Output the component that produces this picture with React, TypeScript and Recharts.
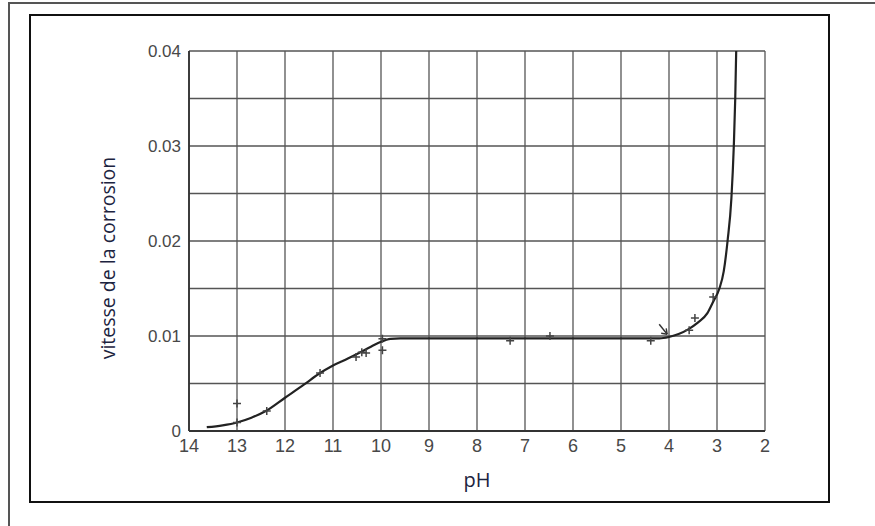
import { ComposedChart, Line, Scatter, XAxis, YAxis, CartesianGrid } from "recharts";

// courbe de vitesse de corrosion en fonction du pH
const curvePH = [13.63, 13.3, 13, 12.7, 12.4, 12, 11.6, 11.3, 11, 10.7, 10.5, 10.2, 10, 9.8, 9.6, 9.3, 9, 8, 7, 6, 5, 4.5, 4.2, 4.0, 3.8, 3.6, 3.4, 3.2, 3.08, 2.95, 2.86, 2.78, 2.7, 2.65, 2.62, 2.6];
const curveRate = [0.0004, 0.0006, 0.0009, 0.0014, 0.0021, 0.0035, 0.0049, 0.006, 0.0069, 0.0076, 0.0081, 0.0089, 0.0094, 0.0097, 0.00975, 0.00975, 0.00975, 0.00975, 0.00975, 0.00975, 0.00975, 0.00975, 0.00975, 0.0099, 0.0102, 0.0107, 0.0114, 0.0124, 0.0136, 0.015, 0.0168, 0.02, 0.0245, 0.03, 0.035, 0.04];

// points de mesure (+)
const pointPH = [13, 13, 12.38, 11.27, 10.52, 10.4, 10.31, 9.97, 9.97, 7.31, 6.48, 4.38, 3.58, 3.46, 3.08];
const pointRate = [0.0029, 0.0009, 0.0021, 0.0061, 0.0078, 0.0083, 0.0082, 0.0085, 0.0097, 0.0095, 0.01, 0.0095, 0.0106, 0.0119, 0.0141];

// flèche
const arrowPH = [4.1];
const arrowRate = [0.0106];

const xTicks = [14, 13, 12, 11, 10, 9, 8, 7, 6, 5, 4, 3, 2];
const yTicks = [0, 0.005, 0.01, 0.015, 0.02, 0.025, 0.03, 0.035, 0.04];
const yLabels: Record<string, string> = { "0": "0", "0.01": "0.01", "0.02": "0.02", "0.03": "0.03", "0.04": "0.04" };

const curve = curvePH.map((ph, i) => ({ ph, rate: curveRate[i] }));
const points = pointPH.map((ph, i) => ({ ph, rate: pointRate[i] }));
const arrow = arrowPH.map((ph, i) => ({ ph, rate: arrowRate[i] }));

const Plus = (props: any) => {
  const { cx, cy } = props;
  return <path d={`M${cx - 4},${cy}h8M${cx},${cy - 4}v8`} stroke="#444" strokeWidth={1.5} fill="none" />;
};

const Arrow = (props: any) => {
  const { cx, cy } = props;
  return (
    <g stroke="#333" strokeWidth={1.4} fill="none">
      <path d={`M${cx - 5},${cy - 6}L${cx + 3},${cy + 4}`} />
      <path d={`M${cx + 3},${cy + 4}l-1,-6M${cx + 3},${cy + 4}l-6,-1`} />
    </g>
  );
};

const font = "'Liberation Sans', Arial, sans-serif";

export default function App() {
  return (
    <div style={{ position: "fixed", left: 0, top: 0, width: 875, height: 526, background: "#fff" }}>
      <div style={{ position: "absolute", left: 8, top: 2, width: 867, height: 524, borderTop: "2px solid #555", borderLeft: "2px solid #555" }} />
      <div style={{ position: "absolute", left: 29, top: 14, width: 797, height: 485, border: "2px solid #111" }} />
      <div style={{ position: "absolute", left: 0, top: 0 }}>
        <ComposedChart width={875} height={526} margin={{ top: 51, right: 110, bottom: 65, left: 129 }}>
          <CartesianGrid stroke="#555" strokeWidth={1.3} horizontalValues={yTicks} verticalValues={xTicks} />
          <XAxis
            dataKey="ph"
            type="number"
            domain={[2, 14]}
            reversed
            ticks={xTicks}
            interval={0}
            height={30}
            tickSize={0}
            tickMargin={8}
            axisLine={{ stroke: "#333", strokeWidth: 1.8 }}
            tickLine={false}
            tick={{ fill: "#484848", fontSize: 18, fontFamily: font }}
            label={{
              content: (p: any) => {
                const vb = p.viewBox;
                return (
                  <text x={vb.x + vb.width / 2} y={vb.y + 48} textAnchor="middle" dominantBaseline="central" fill="#1c2340" fontSize={20} fontFamily="'Open Sans', sans-serif">
                    pH
                  </text>
                );
              },
            }}
          />
          <YAxis
            dataKey="rate"
            type="number"
            domain={[0, 0.04]}
            ticks={yTicks}
            interval={0}
            width={60}
            tickSize={0}
            tickMargin={8}
            axisLine={{ stroke: "#333", strokeWidth: 1.8 }}
            tickLine={false}
            tick={{ fill: "#484848", fontSize: 17, fontFamily: font }}
            tickFormatter={(v: number) => yLabels[String(v)] ?? ""}
            label={{
              content: (p: any) => {
                const vb = p.viewBox;
                const x = vb.x - 22;
                const y = vb.y + vb.height / 2 + 17;
                return (
                  <text x={x} y={y} transform={`rotate(-90, ${x}, ${y})`} textAnchor="middle" dominantBaseline="central" fill="#1c2340" fontSize={19.5} fontFamily="'Open Sans', sans-serif">
                    vitesse de la corrosion
                  </text>
                );
              },
            }}
          />
          <Line data={curve} dataKey="rate" type="monotone" stroke="#222" strokeWidth={2.2} dot={false} activeDot={false} isAnimationActive={false} />
          <Scatter data={points} dataKey="rate" shape={Plus} isAnimationActive={false} />
          <Scatter data={arrow} dataKey="rate" shape={Arrow} isAnimationActive={false} />
        </ComposedChart>
      </div>
    </div>
  );
}
